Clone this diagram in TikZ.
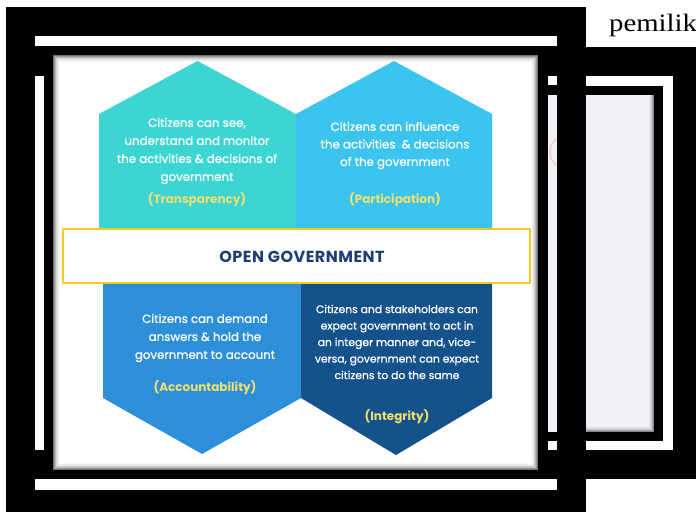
\documentclass[tikz,border=0pt]{standalone}
\usepackage{fontspec}
\setsansfont{Poppins}
\newfontfamily\hexfont{Poppins}[UprightFeatures={FakeBold=0.8}]
\newfontfamily\titlefont{Poppins}[LetterSpace=3]
\newfontfamily\docfont{Liberation Serif}
\usepackage{tikz}
\usetikzlibrary{positioning}
\definecolor{HexTeal}{HTML}{3DD5D2}
\definecolor{HexSky}{HTML}{3AC4EE}
\definecolor{HexBlue}{HTML}{2C8FD7}
\definecolor{HexNavy}{HTML}{15528B}
\definecolor{OGYellow}{HTML}{F6C91C}
\definecolor{OGLabel}{HTML}{F1E06E}
\definecolor{OGNavy}{HTML}{1F3E74}
\definecolor{PageGray}{HTML}{EFF1F5}

\begin{document}
\begin{tikzpicture}[x=1pt,y=-1pt]
  \tikzstyle{hextext}=[text=white,align=center,inner sep=0pt,
    font=\hexfont\fontsize{11.8}{18}\selectfont]
  \tikzstyle{hexlabel}=[text=OGLabel,inner sep=0pt,
    font=\sffamily\bfseries\fontsize{12}{14}\selectfont]
  \tikzstyle{whitebar}=[fill=white]
  \useasboundingbox (0,0) rectangle (696,512);
  \clip (0,0) rectangle (696,512);

  % page text and black frames
  \node[anchor=base west,inner sep=0pt,xscale=1.15,font=\docfont\fontsize{25}{27}\selectfont] (pageword) at (609,31) {pemilik};
  \fill[black] (6,7) rectangle (586,512);
  \fill[black] (586,47) rectangle (696,479);

  % white border pieces
  \fill[whitebar] (35,36) rectangle (557,46);
  \fill[whitebar] (35,76) rectangle (44,450);
  \fill[whitebar] (35,479) rectangle (557,490);
  \fill[whitebar] (548,76) rectangle (557,85);
  \fill[whitebar] (548,441) rectangle (557,450);
  \fill[whitebar] (586,76) rectangle (673,86);
  \fill[whitebar] (663,76) rectangle (673,450);
  \fill[whitebar] (586,441) rectangle (673,450);

  % panels with a soft edge
  \foreach \i/\c in {0/55,1/40,2/28,3/18,4/11,5/6,6/3}
    \fill[black!\c] (53+\i,55+\i) rectangle (538-\i,470-\i);
  \fill[white] (60,62) rectangle (531,463);
  \foreach \i/\c in {0/45,1/30,2/18,3/10,4/5}
    \fill[PageGray!\the\numexpr100-\c\relax!black] (586,95) rectangle (654-\i,432-\i);
  \fill[PageGray] (586,95) rectangle (649,427);
  \fill[PageGray] (548,95) rectangle (557,432);
  \begin{scope}
    \clip (548,95) rectangle (557,432);
    \draw[red!25,line width=1pt] (566,152) circle (16);
  \end{scope}

  % four hexagon halves
  \fill[HexTeal] (99,114) -- (197.5,61) -- (296,114) -- (296,240) -- (99,240) -- cycle;
  \fill[HexSky] (296,114) -- (394,61) -- (492,114) -- (492,240) -- (296,240) -- cycle;
  \fill[HexBlue] (103,270) -- (301,270) -- (301,398) -- (202,454) -- (103,398) -- cycle;
  \fill[HexNavy] (301,270) -- (492,270) -- (492,398) -- (396,455) -- (301,398) -- cycle;

  % centre band
  \node[draw=OGYellow,line width=1.6pt,fill=white,minimum width=467pt,minimum height=54pt] (band) at (296.5,256) {};
  \node[text=OGNavy,font=\titlefont\bfseries\fontsize{16}{18}\selectfont] (bandtitle) at (302,257) {OPEN GOVERNMENT};

  % hexagon texts
  \node[hextext] (seetext) at (197,151) {Citizens can see,\\understand and monitor\\the activities \& decisions of\\government};
  \node[hexlabel] (transparency) at (197,200) {(Transparency)};
  \node[hextext,font=\hexfont\fontsize{11.8}{17.5}\selectfont] (influencetext) at (395,145.5) {Citizens can influence\\the activities \ \& decisions\\of the government};
  \node[hexlabel] (participation) at (395,200) {(Participation)};
  \node[hextext] (demandtext) at (205,338) {Citizens can demand\\answers \& hold the\\government to account};
  \node[hexlabel] (accountability) at (205,388) {(Accountability)};
  \node[hextext,font=\hexfont\fontsize{10.8}{16.5}\selectfont] (expecttext) at (397,342) {Citizens and stakeholders can\\expect government to act in\\an integer manner and, vice-\\versa, government can expect\\citizens to do the same};
  \node[hexlabel] (integrity) at (397,417) {(Integrity)};
\end{tikzpicture}
\end{document}
